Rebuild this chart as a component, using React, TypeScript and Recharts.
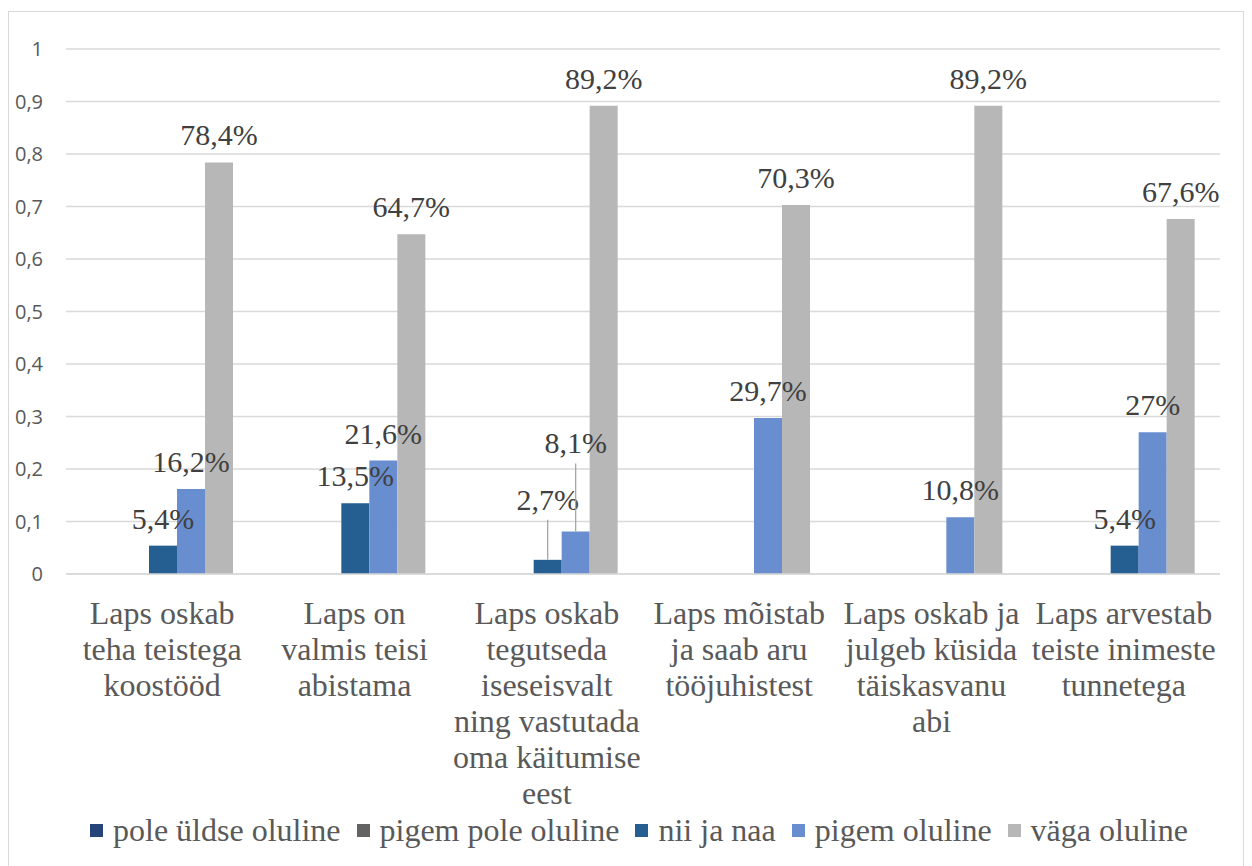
import { Bar, BarChart, CartesianGrid, LabelList, Legend, XAxis, YAxis } from 'recharts';

const categories = [
  'Laps oskab teha teistega koostööd',
  'Laps on valmis teisi abistama',
  'Laps oskab tegutseda iseseisvalt ning vastutada oma käitumise eest',
  'Laps mõistab ja saab aru tööjuhistest',
  'Laps oskab ja julgeb küsida täiskasvanu abi',
  'Laps arvestab teiste inimeste tunnetega',
];

// line breaks as in the original axis
const categoryLines = [
  ['Laps oskab', 'teha teistega', 'koostööd'],
  ['Laps on', 'valmis teisi', 'abistama'],
  ['Laps oskab', 'tegutseda', 'iseseisvalt', 'ning vastutada', 'oma käitumise', 'eest'],
  ['Laps mõistab', 'ja saab aru', 'tööjuhistest'],
  ['Laps oskab ja', 'julgeb küsida', 'täiskasvanu', 'abi'],
  ['Laps arvestab', 'teiste inimeste', 'tunnetega'],
];

const seriesNames = ['pole üldse oluline', 'pigem pole oluline', 'nii ja naa', 'pigem oluline', 'väga oluline'];

const poleUldse = [0, 0, 0, 0, 0, 0];
const pigemPole = [0, 0, 0, 0, 0, 0];
const niiJaNaa = [0.054, 0.135, 0.027, 0, 0, 0.054];
const pigemOluline = [0.162, 0.216, 0.081, 0.297, 0.108, 0.27];
const vagaOluline = [0.784, 0.647, 0.892, 0.703, 0.892, 0.676];

const yTicks = [0, 0.1, 0.2, 0.3, 0.4, 0.5, 0.6, 0.7, 0.8, 0.9, 1];

const colors = ['#264478', '#636363', '#255E91', '#698ED0', '#B7B7B7'];

// labels pulled up with a leader line (px)
const liftNii = [0, 0, 33, 0, 0, 0];
const liftPigem = [0, 0, 61, 0, 0, 0];
const noLift = [0, 0, 0, 0, 0, 0];

const data = categories.map((name, i) => ({
  name,
  s0: poleUldse[i],
  s1: pigemPole[i],
  s2: niiJaNaa[i],
  s3: pigemOluline[i],
  s4: vagaOluline[i],
}));

const serif = 'Liberation Serif, DejaVu Serif, Times, serif';

const fmtPct = (v: number) => String(Number((v * 100).toFixed(1))).replace('.', ',') + '%';

const makeLabel = (lift: number[]) => (props: any) => {
  const { x, y, width, value, index } = props;
  if (!value) return null;
  const cx = Number(x) + Number(width) / 2;
  const top = Number(y);
  const l = lift[index] || 0;
  const base = top - 17 - l;
  return (
    <g>
      {l > 0 && <line x1={cx} x2={cx} y1={base + 10} y2={top} stroke="#A6A6A6" strokeWidth={1.3} />}
      <text x={cx} y={base} textAnchor="middle" fontFamily={serif} fontSize={30} fill="#404040">
        {fmtPct(value)}
      </text>
    </g>
  );
};

const XTick = (props: any) => {
  const { x, payload, index } = props;
  const lines = categoryLines[index] || [payload.value];
  return (
    <text textAnchor="middle" fontFamily={serif} fontSize={32} fill="#595959">
      {lines.map((ln, i) => (
        <tspan key={i} x={x} y={612 + i * 36}>
          {ln}
        </tspan>
      ))}
    </text>
  );
};

const YTick = (props: any) => {
  const { y, payload } = props;
  return (
    <text x={34} y={y} dy={7} textAnchor="end" fontFamily="Open Sans, sans-serif" fontSize={20} fill="#595959">
      {String(payload.value).replace('.', ',')}
    </text>
  );
};

const LegendContent = () => (
  <div style={{ display: 'flex', alignItems: 'center', fontFamily: serif, fontSize: 32, color: '#595959', lineHeight: '36px' }}>
    {seriesNames.map((n, i) => (
      <div key={n} style={{ display: 'flex', alignItems: 'center', marginRight: 16 }}>
        <span style={{ display: 'inline-block', width: 13, height: 13, background: colors[i], marginRight: 10 }} />
        <span>{n}</span>
      </div>
    ))}
  </div>
);

export default function App() {
  return (
    <div style={{ marginTop: 3, width: 1234, height: 860, border: '1px solid #D9D9D9', background: '#fff', fontFamily: serif }}>
      <BarChart
        width={1234}
        height={860}
        data={data}
        margin={{ top: 37, right: 23, bottom: 48, left: 0 }}
        barCategoryGap={27}
        barGap={0}
      >
        <CartesianGrid vertical={false} stroke="#D9D9D9" strokeWidth={1.4} />
        <XAxis
          dataKey="name"
          height={250}
          interval={0}
          axisLine={{ stroke: '#D9D9D9', strokeWidth: 1.4 }}
          tickLine={false}
          tick={<XTick />}
        />
        <YAxis
          width={57}
          domain={[0, 1]}
          ticks={yTicks}
          axisLine={false}
          tickLine={false}
          tick={<YTick />}
        />
        <Legend
          verticalAlign="middle"
          align="center"
          wrapperStyle={{ top: 800, left: 81, width: 1150 }}
          content={<LegendContent />}
        />
        <Bar dataKey="s0" name={seriesNames[0]} fill={colors[0]} isAnimationActive={false}>
          <LabelList dataKey="s0" content={makeLabel(noLift)} />
        </Bar>
        <Bar dataKey="s1" name={seriesNames[1]} fill={colors[1]} isAnimationActive={false}>
          <LabelList dataKey="s1" content={makeLabel(noLift)} />
        </Bar>
        <Bar dataKey="s2" name={seriesNames[2]} fill={colors[2]} isAnimationActive={false}>
          <LabelList dataKey="s2" content={makeLabel(liftNii)} />
        </Bar>
        <Bar dataKey="s3" name={seriesNames[3]} fill={colors[3]} isAnimationActive={false}>
          <LabelList dataKey="s3" content={makeLabel(liftPigem)} />
        </Bar>
        <Bar dataKey="s4" name={seriesNames[4]} fill={colors[4]} isAnimationActive={false}>
          <LabelList dataKey="s4" content={makeLabel(noLift)} />
        </Bar>
      </BarChart>
    </div>
  );
}
